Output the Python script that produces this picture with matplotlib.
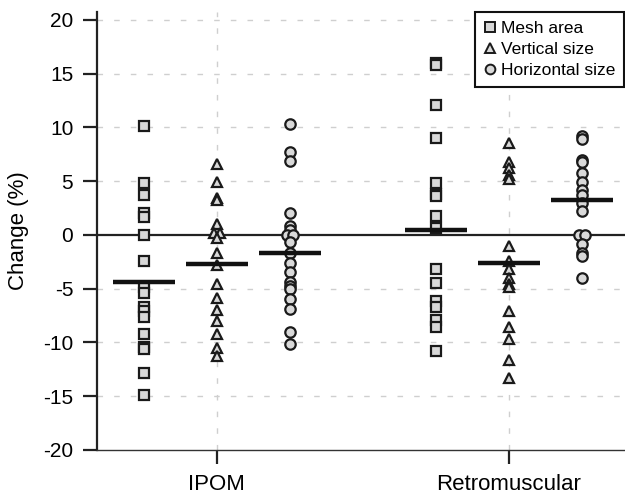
# Mesh change by placement: strip plot with mean bars
import numpy as np
import matplotlib.pyplot as plt
from matplotlib.lines import Line2D

plt.rcParams['font.family'] = ['Liberation Sans', 'DejaVu Sans']
plt.rcParams['axes.unicode_minus'] = False

# Data
groups = ['IPOM', 'Retromuscular']
measures = ['Mesh area', 'Vertical size', 'Horizontal size']
markers = ['s', '^', 'o']

ipom_mesh = [10.1, 4.8, 3.7, 2.0, 1.7, 0.0, -2.4, -4.8, -5.4, -6.7, -7.1,
             -7.6, -9.2, -10.4, -10.6, -12.8, -14.9]
ipom_vertical = [6.6, 4.9, 3.4, 3.2, 1.0, 0.2, 0.2, -0.3, -1.65, -2.8,
                 -4.6, -5.9, -7.0, -8.0, -9.2, -10.5, -11.25]
ipom_horizontal = [10.35, 7.7, 6.85, 2.0, 0.8, 0.5, 0.0, 0.0, -0.7, -1.7,
                   -2.65, -3.45, -4.4, -4.75, -5.05, -6.0, -6.85, -9.0, -10.1]
retro_mesh = [16.0, 15.8, 12.1, 9.0, 4.8, 3.8, 3.6, 1.8, 0.6, -3.2, -4.5,
              -6.1, -6.7, -7.9, -8.6, -10.8]
retro_vertical = [8.5, 6.8, 6.2, 5.6, 5.2, -1.0, -2.4, -3.2, -4.0, -4.6,
                  -4.8, -7.1, -8.6, -9.7, -11.6, -13.3]
retro_horizontal = [9.2, 8.9, 7.0, 6.75, 5.8, 4.9, 4.2, 3.75, 3.0, 2.2,
                    0.0, 0.0, -0.8, -1.65, -2.0, -4.05]

ipom_means = [-4.4, -2.75, -1.65]
retro_means = [0.5, -2.6, 3.2]

series = [ipom_mesh, ipom_vertical, ipom_horizontal,
          retro_mesh, retro_vertical, retro_horizontal]
means = ipom_means + retro_means
positions = [1, 2, 3, 5, 6, 7]

face = '#d9d9d9'
edge = '#1a1a1a'

fig = plt.figure(figsize=(6.25, 4.98), dpi=100)
ax = fig.add_axes([0.155, 0.0964, 0.845, 0.88])

# grid
for yv in [-15, -10, -5, 5, 10, 15, 20]:
    ax.axhline(yv, color='#cfcfcf', lw=1, dashes=(4, 8), zorder=0)
for xv in [2, 6]:
    ax.axvline(xv, color='#cfcfcf', lw=1, dashes=(4, 8), zorder=0)
ax.axhline(0, color='#222222', lw=1.6, zorder=1)

for i, (vals, pos, m) in enumerate(zip(series, positions, means)):
    vals = np.array(vals)
    xs = np.full(len(vals), float(pos))
    # small side shift for exact duplicates
    for v in np.unique(vals):
        idx = np.where(vals == v)[0]
        if len(idx) == 2:
            xs[idx[0]] -= 0.045
            xs[idx[1]] += 0.045
    ax.plot(xs, vals, linestyle='none', marker=markers[i % 3], ms=7.5,
            mfc=face, mec=edge, mew=1.6, zorder=3)
    ax.plot([pos - 0.42, pos + 0.42], [m, m], color='#111111', lw=3.2,
            solid_capstyle='butt', zorder=4)

ax.set_xlim(0.356, 7.59)
ax.set_ylim(-20, 20.75)
ax.set_xticks([2, 6])
ax.set_xticklabels(groups)
ax.set_yticks(np.arange(-20, 21, 5))
ax.set_ylabel('Change (%)', fontsize=16, labelpad=10)

ax.tick_params(axis='y', direction='out', length=10, width=1.6,
               labelsize=15, pad=7, color='#222222')
ax.tick_params(axis='x', direction='out', length=10, width=1.6,
               labelsize=16, pad=7, color='#222222')

ax.spines['top'].set_visible(False)
ax.spines['right'].set_visible(False)
ax.spines['left'].set_linewidth(1.6)
ax.spines['left'].set_color('#222222')
ax.spines['bottom'].set_linewidth(1.0)
ax.spines['bottom'].set_color('#333333')

handles = [Line2D([], [], linestyle='none', marker=mk, ms=7, mfc=face,
                  mec=edge, mew=1.4) for mk in markers]
leg = ax.legend(handles, measures, loc='upper right',
                bbox_to_anchor=(0.998, 1.0), borderaxespad=0,
                fontsize=12.5, fancybox=False, framealpha=1,
                edgecolor='#111111', handlelength=0.7, handletextpad=0.3,
                borderpad=0.5, labelspacing=0.35)
leg.get_frame().set_linewidth(1.5)

fig.savefig('out.png', dpi=100)
